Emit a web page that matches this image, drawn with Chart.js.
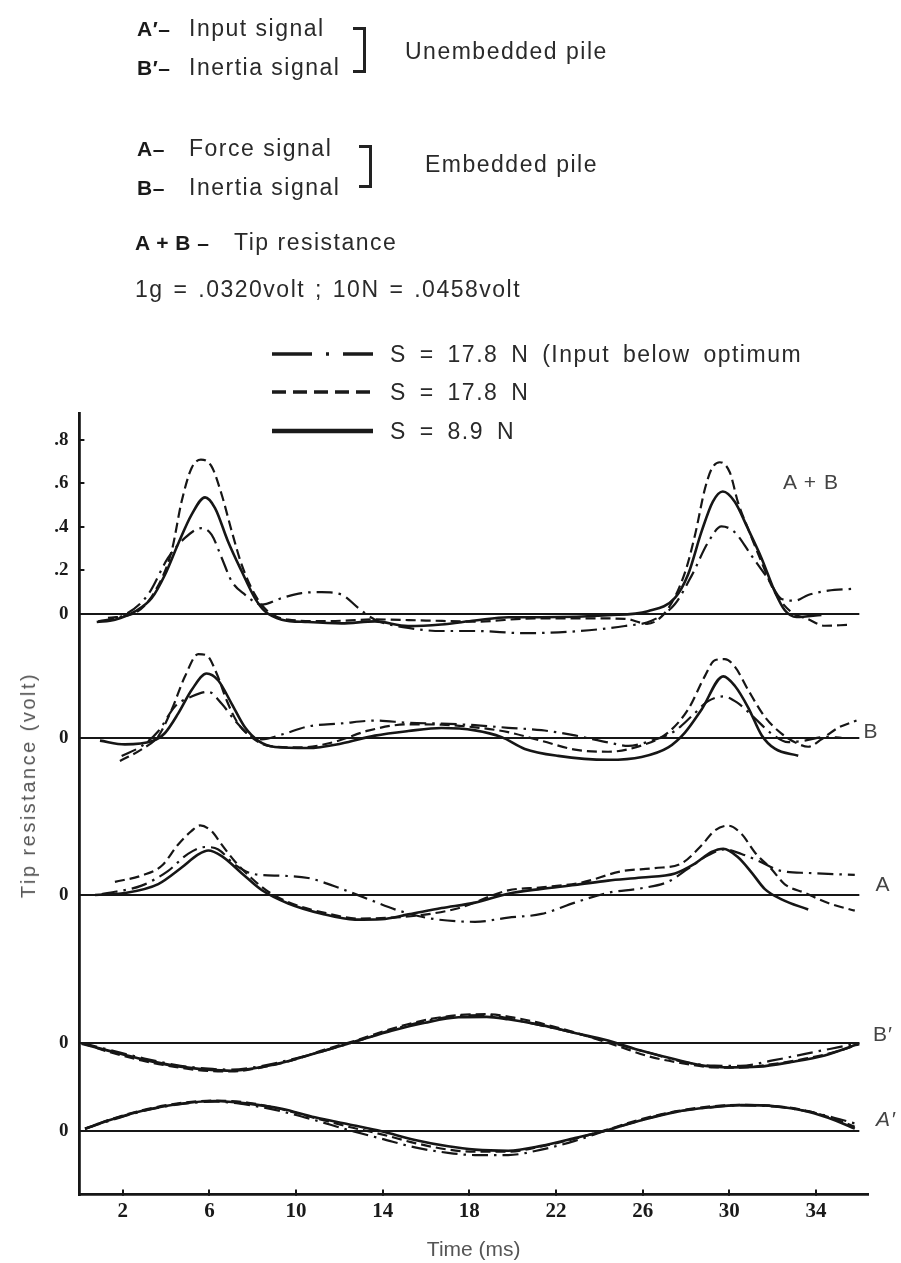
<!DOCTYPE html>
<html><head><meta charset="utf-8">
<script src="https://cdn.jsdelivr.net/npm/chart.js@4.4.1/dist/chart.umd.min.js"></script>
<style>
html,body{margin:0;padding:0;background:#fff;}
#wrap{position:relative;width:901px;height:1263px;overflow:hidden;background:#fff;}
#c{position:absolute;left:0;top:0;}
.t{position:absolute;white-space:nowrap;line-height:1;transform:translateY(-50%);font-family:"Liberation Sans",Arial,sans-serif;color:#2a2a2a;font-size:23px;letter-spacing:1.5px;}
.b{font-weight:bold;font-size:21px;letter-spacing:0.5px;color:#1a1a1a;}
.lab{position:absolute;white-space:nowrap;line-height:1;transform:translate(-50%,-50%);font-family:"Liberation Sans",Arial,sans-serif;color:#444;font-size:21px;letter-spacing:1px;}
.br{position:absolute;border:3px solid #222;border-left:none;box-sizing:border-box;}
.ytitle{position:absolute;left:28px;top:785px;transform:translate(-50%,-50%) rotate(-90deg);white-space:nowrap;line-height:1;font-family:"Liberation Sans",Arial,sans-serif;color:#555;font-size:20px;letter-spacing:2.5px;}
</style></head>
<body><div id="wrap">
<canvas id="c" width="901" height="1263"></canvas>

<div class="t b" style="left:137px;top:28px">A′–</div>
<div class="t" style="left:189px;top:28px">Input signal</div>
<div class="t b" style="left:137px;top:67px">B′–</div>
<div class="t" style="left:189px;top:67px">Inertia signal</div>
<div class="br" style="left:353px;top:27px;width:13px;height:46px"></div>
<div class="t" style="left:405px;top:51px">Unembedded pile</div>

<div class="t b" style="left:137px;top:148px">A–</div>
<div class="t" style="left:189px;top:148px">Force signal</div>
<div class="t b" style="left:137px;top:187px">B–</div>
<div class="t" style="left:189px;top:187px">Inertia signal</div>
<div class="br" style="left:359px;top:145px;width:13px;height:43px"></div>
<div class="t" style="left:425px;top:164px">Embedded pile</div>

<div class="t b" style="left:135px;top:242px">A + B –</div>
<div class="t" style="left:234px;top:242px">Tip resistance</div>
<div class="t" style="left:135px;top:289px;word-spacing:2px">1g = .0320volt ; 10N = .0458volt</div>

<svg style="position:absolute;left:270px;top:340px" width="106" height="105">
  <line x1="2" y1="14" x2="103" y2="14" stroke="#1a1a1a" stroke-width="3.5" stroke-dasharray="40 14 3 14 40"/>
  <line x1="2" y1="52" x2="103" y2="52" stroke="#1a1a1a" stroke-width="3.5" stroke-dasharray="14 7"/>
  <line x1="2" y1="91" x2="103" y2="91" stroke="#1a1a1a" stroke-width="4.5"/>
</svg>
<div class="t" style="left:390px;top:354px;word-spacing:5px">S = 17.8 N (Input below optimum</div>
<div class="t" style="left:390px;top:392px;word-spacing:5px">S = 17.8 N</div>
<div class="t" style="left:390px;top:431px;word-spacing:5px">S = 8.9 N</div>

<div class="lab" style="left:811px;top:481px">A + B</div>
<div class="lab" style="left:871px;top:730px">B</div>
<div class="lab" style="left:883px;top:883px">A</div>
<div class="lab" style="left:883px;top:1033px">B′</div>
<div class="lab" style="left:886px;top:1118px;font-style:italic">A′</div>

<div class="ytitle">Tip resistance (volt)</div>
</div>
<script>
// ---------- data (time in ms, signal in volt relative to each trace's own zero line) ----------
const timeTicks = [2, 6, 10, 14, 18, 22, 26, 30, 34];
const upperTicks = [0.8, 0.6, 0.4, 0.2, 0];
const traceNames = ['A + B', 'B', 'A', "B'", "A'"];
const traceOffsets = [0, -0.569, -1.289, -1.968, -2.372];
const baselineSpan = [0, 36];

const abSolid = [[0.8,-0.037],[1.64,-0.026],[2.57,0.012],[3.34,0.073],[3.95,0.18],[4.55,0.32],[5.18,0.456],[5.8,0.535],[6.26,0.486],[6.86,0.333],[7.49,0.196],[8.1,0.073],[8.57,0.012],[9.34,-0.026],[10.55,-0.037],[12.1,-0.043],[13.64,-0.034],[15.17,-0.055],[16.7,-0.048],[18.26,-0.03],[19.8,-0.015],[21.33,-0.015],[24.4,-0.006],[26.24,0.013],[27.49,0.074],[28.09,0.18],[28.72,0.379],[29.24,0.516],[29.7,0.562],[30.25,0.515],[30.85,0.393],[31.49,0.255],[32.1,0.102],[32.56,0.017],[33.1,-0.014],[34.25,-0.004]];
const abDashed = [[1.32,-0.018],[2.57,0.005],[3.49,0.104],[4.26,0.29],[4.72,0.517],[5.18,0.67],[5.61,0.708],[6.1,0.677],[6.57,0.547],[7.03,0.38],[7.49,0.226],[8.1,0.089],[8.7,0.012],[9.63,-0.026],[11.33,-0.033],[13.64,-0.025],[16.0,-0.03],[18.26,-0.035],[21.0,-0.02],[23.5,-0.02],[25.18,-0.022],[26.2,-0.045],[27.16,0.023],[27.95,0.19],[28.41,0.36],[28.87,0.573],[29.18,0.665],[29.56,0.696],[30.02,0.65],[30.4,0.512],[30.87,0.39],[31.49,0.237],[32.1,0.1],[32.87,0.008],[33.62,-0.023],[34.4,-0.054],[35.47,-0.05]];
const abDashDot = [[0.87,-0.034],[2.1,-0.003],[3.17,0.089],[4.09,0.257],[4.87,0.349],[5.64,0.394],[6.1,0.364],[6.57,0.257],[7.03,0.15],[7.64,0.089],[8.41,0.043],[9.34,0.073],[10.26,0.096],[11.18,0.1],[12.1,0.089],[12.87,0.028],[13.64,-0.026],[15.18,-0.064],[16.72,-0.078],[18.26,-0.078],[20.56,-0.088],[22.87,-0.08],[25.18,-0.055],[26.41,-0.031],[27.49,0.046],[28.26,0.176],[29.02,0.329],[29.64,0.402],[30.25,0.375],[31.02,0.268],[31.79,0.161],[32.41,0.069],[33.02,0.061],[33.64,0.087],[34.56,0.107],[35.64,0.115]];

const bSolid = [[0.95,-0.012],[2.1,-0.029],[3.34,-0.015],[3.95,0.023],[4.57,0.114],[5.18,0.22],[5.87,0.296],[6.41,0.264],[7.03,0.157],[7.64,0.049],[8.26,-0.013],[9.03,-0.041],[10.56,-0.046],[12.1,-0.025],[13.64,0.011],[15.18,0.032],[16.72,0.046],[18.26,0.035],[19.49,0.004],[20.56,-0.05],[22.1,-0.082],[24.4,-0.1],[25.95,-0.087],[27.18,-0.043],[27.95,0.025],[28.72,0.131],[29.72,0.283],[30.25,0.24],[30.87,0.14],[31.49,0.013],[32.1,-0.049],[33.18,-0.081]];
const bDashed = [[1.87,-0.105],[2.87,-0.052],[3.64,0.008],[4.26,0.13],[4.87,0.282],[5.49,0.385],[5.87,0.38],[6.34,0.295],[6.8,0.172],[7.33,0.065],[7.95,0.003],[8.72,-0.036],[10.26,-0.043],[11.8,-0.017],[13.33,0.034],[15.18,0.063],[16.72,0.061],[18.26,0.049],[19.79,0.027],[21.33,-0.013],[22.87,-0.053],[24.4,-0.063],[25.95,-0.034],[27.18,0.026],[28.1,0.132],[28.87,0.284],[29.33,0.357],[29.79,0.362],[30.25,0.328],[30.87,0.22],[31.64,0.097],[32.41,0.02],[33.18,-0.027],[33.64,-0.04],[34.25,-0.006],[35.02,0.047],[35.87,0.08]];
const bDashDot = [[1.95,-0.082],[2.87,-0.037],[3.64,0.031],[4.41,0.145],[5.18,0.19],[5.95,0.212],[6.57,0.157],[7.18,0.08],[7.8,0.018],[8.41,-0.006],[9.34,0.016],[10.56,0.053],[12.1,0.067],[13.64,0.08],[15.18,0.07],[16.72,0.066],[18.26,0.059],[19.79,0.047],[21.33,0.036],[22.87,0.012],[24.4,-0.02],[25.33,-0.036],[26.41,-0.012],[27.49,0.033],[28.26,0.1],[29.02,0.169],[29.72,0.191],[30.4,0.16],[31.18,0.09],[31.95,0.02],[32.71,-0.019],[33.48,-0.012],[34.4,0.005],[35.18,0.001]];

const aSolid = [[0.72,0],[2.1,0.009],[3.64,0.05],[4.72,0.126],[5.49,0.186],[5.95,0.204],[6.57,0.178],[7.49,0.1],[8.41,0.023],[9.64,-0.039],[11.18,-0.086],[12.72,-0.113],[13.95,-0.111],[15.18,-0.089],[16.72,-0.06],[18.26,-0.035],[19.79,0.006],[21.33,0.028],[22.87,0.046],[24.4,0.066],[25.95,0.08],[27.49,0.099],[28.41,0.144],[29.18,0.197],[29.72,0.212],[30.4,0.173],[31.02,0.104],[31.64,0.027],[32.41,-0.02],[33.64,-0.067]];
const aDashed = [[1.64,0.06],[2.87,0.089],[3.8,0.134],[4.57,0.233],[5.18,0.294],[5.57,0.319],[6.1,0.293],[6.57,0.231],[7.18,0.154],[7.95,0.077],[8.72,0.015],[9.8,-0.039],[11.33,-0.082],[12.87,-0.108],[14.41,-0.104],[15.95,-0.09],[17.49,-0.061],[19.79,0.021],[21.33,0.035],[23.18,0.057],[25.03,0.109],[26.56,0.123],[27.79,0.145],[28.72,0.228],[29.33,0.296],[29.95,0.318],[30.56,0.28],[31.18,0.195],[31.95,0.118],[32.56,0.049],[33.48,0.01],[34.56,-0.037],[35.79,-0.072]];
const aDashDot = [[1.03,0.004],[2.87,0.043],[4.1,0.111],[5.03,0.19],[5.8,0.22],[6.41,0.209],[7.18,0.139],[8.1,0.095],[9.34,0.088],[10.56,0.078],[12.1,0.028],[13.33,-0.019],[14.56,-0.066],[16.1,-0.106],[18.26,-0.123],[19.79,-0.104],[21.33,-0.087],[22.87,-0.035],[24.4,0.01],[25.95,0.031],[27.18,0.061],[28.1,0.121],[29.02,0.182],[29.79,0.209],[30.56,0.188],[31.33,0.157],[32.41,0.11],[33.64,0.101],[35.79,0.092]];

const bpSolid = [[0.1,-0.003],[1.33,-0.035],[2.87,-0.074],[4.41,-0.105],[5.95,-0.122],[7.03,-0.127],[8.26,-0.113],[9.8,-0.079],[11.33,-0.034],[12.87,0.011],[14.41,0.056],[15.95,0.093],[17.5,0.118],[18.8,0.12],[19.79,0.109],[21.33,0.082],[22.87,0.046],[24.4,0.011],[25.95,-0.036],[27.49,-0.075],[29.02,-0.107],[29.95,-0.112],[31.33,-0.109],[32.87,-0.087],[34.4,-0.057],[35.95,-0.005]];
const bpDashed = [[0.1,0],[1.33,-0.04],[2.87,-0.08],[4.41,-0.11],[5.95,-0.128],[7.03,-0.13],[8.26,-0.115],[9.8,-0.08],[11.33,-0.03],[12.87,0.015],[14.41,0.065],[15.95,0.105],[17.5,0.128],[18.8,0.132],[20.3,0.112],[21.8,0.078],[23.3,0.035],[24.8,-0.012],[26.3,-0.062],[27.8,-0.092],[29.3,-0.112],[30.5,-0.113],[32.0,-0.097],[33.5,-0.072],[35.0,-0.038],[36.0,-0.005]];
const bpDashDot = [[0.1,0],[1.33,-0.03],[2.87,-0.068],[4.41,-0.1],[5.95,-0.118],[7.03,-0.122],[8.26,-0.108],[9.8,-0.075],[11.33,-0.035],[12.87,0.01],[14.41,0.06],[15.95,0.1],[17.5,0.125],[18.8,0.128],[20.3,0.102],[21.8,0.07],[23.3,0.035],[24.8,-0.005],[26.3,-0.045],[27.8,-0.085],[29.3,-0.104],[30.5,-0.105],[32.0,-0.08],[33.5,-0.05],[35.0,-0.02],[36.0,0.0]];

const apSolid = [[0.26,0.011],[1.33,0.048],[2.87,0.092],[4.41,0.122],[6.26,0.138],[7.8,0.126],[9.34,0.102],[10.87,0.063],[12.41,0.031],[13.95,-0.001],[15.49,-0.041],[17.02,-0.07],[18.26,-0.085],[19.79,-0.09],[21.33,-0.068],[22.87,-0.032],[24.4,0.005],[25.95,0.05],[27.49,0.087],[29.02,0.108],[30.56,0.119],[32.1,0.114],[33.64,0.089],[34.87,0.05],[35.79,0.011]];
const apDashed = [[0.26,0.01],[1.33,0.05],[2.87,0.095],[4.41,0.125],[6.26,0.14],[7.8,0.13],[9.34,0.1],[10.87,0.06],[12.41,0.02],[13.95,-0.015],[15.49,-0.055],[17.02,-0.085],[18.26,-0.095],[19.79,-0.095],[21.33,-0.07],[22.87,-0.035],[24.4,0.008],[25.95,0.055],[27.49,0.09],[29.02,0.112],[30.56,0.12],[32.1,0.115],[33.64,0.092],[34.87,0.055],[35.79,0.02]];
const apDashDot = [[0.26,0.011],[1.33,0.045],[2.87,0.09],[4.41,0.12],[6.26,0.135],[7.8,0.12],[9.34,0.09],[10.87,0.05],[12.41,0.005],[13.95,-0.035],[15.49,-0.075],[17.02,-0.1],[18.26,-0.11],[19.79,-0.11],[21.33,-0.085],[22.87,-0.045],[24.4,0.005],[25.95,0.05],[27.49,0.088],[29.02,0.108],[30.56,0.118],[32.1,0.112],[33.64,0.09],[34.87,0.06],[35.79,0.035]];

const seriesSolid   = [abSolid, bSolid, aSolid, bpSolid, apSolid];
const seriesDashed  = [abDashed, bDashed, aDashed, bpDashed, apDashed];
const seriesDashDot = [abDashDot, bDashDot, aDashDot, bpDashDot, apDashDot];

// ---------- chart ----------
const INK = '#161616';
const datasets = [];
traceOffsets.forEach((off, i) => {
  datasets.push({ label: traceNames[i] + ' zero', data: baselineSpan.map(t => ({x: t, y: off})),
    borderColor: INK, borderWidth: 2, pointRadius: 0, tension: 0 });
});
const addSeries = (arr, style) => arr.forEach((pts, i) => {
  datasets.push(Object.assign({
    label: traceNames[i] + ' ' + style.name,
    data: pts.map(([t, v]) => ({x: t, y: v + traceOffsets[i]})),
    borderColor: INK, pointRadius: 0, cubicInterpolationMode: 'monotone', fill: false
  }, style.opts));
});
addSeries(seriesSolid,   {name: 'S = 8.9 N',  opts: {borderWidth: 2.6, borderDash: []}});
addSeries(seriesDashed,  {name: 'S = 17.8 N', opts: {borderWidth: 2.2, borderDash: [10, 5]}});
addSeries(seriesDashDot, {name: 'S = 17.8 N (input below optimum)', opts: {borderWidth: 2.2, borderDash: [16, 6, 2.5, 6]}});

const yTickValues = upperTicks.concat(traceOffsets.slice(1));

new Chart(document.getElementById('c'), {
  type: 'line',
  data: { datasets },
  options: {
    responsive: false, animation: false, devicePixelRatio: 1,
    layout: { padding: { top: 413, right: 33, bottom: 0, left: 0 } },
    plugins: { legend: { display: false }, tooltip: { enabled: false } },
    scales: {
      x: {
        type: 'linear', min: 0, max: 36.4,
        afterFit: s => { s.height = 68.5; },
        afterBuildTicks: s => { s.ticks = timeTicks.map(v => ({value: v})); },
        border: { display: true, color: INK, width: 2.8 },
        grid: { drawOnChartArea: false, drawTicks: true, tickLength: -5, color: INK, lineWidth: 2 },
        ticks: { autoSkip: false, maxRotation: 0, padding: 9, color: '#1a1a1a',
                 font: { family: '"Liberation Serif", "DejaVu Serif", serif', size: 21, weight: 'bold' },
                 callback: v => String(v) },
        title: { display: true, text: 'Time (ms)', color: '#555', padding: { top: 0, bottom: 0 },
                 font: { family: '"Liberation Sans", Arial, sans-serif', size: 21 } }
      },
      y: {
        type: 'linear', min: -2.663, max: 0.922,
        afterFit: s => { s.width = 79.4; },
        afterBuildTicks: s => { s.ticks = yTickValues.map(v => ({value: v})); },
        border: { display: true, color: INK, width: 2.8 },
        grid: { drawOnChartArea: false, drawTicks: true, tickLength: -5, lineWidth: 2,
                color: c => (c.tick && c.tick.value > 0.05) ? INK : 'rgba(0,0,0,0)' },
        ticks: { autoSkip: false, padding: 16, color: '#1a1a1a',
                 font: { family: '"Liberation Serif", "DejaVu Serif", serif', size: 19, weight: 'bold' },
                 callback: v => v > 0.05 ? ('.' + Math.round(v * 10)) : '0' }
      }
    }
  }
});
</script>
</body></html>
